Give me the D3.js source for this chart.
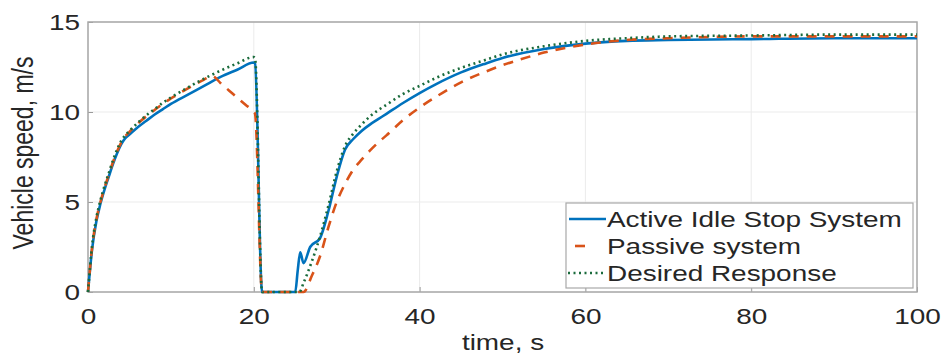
<!DOCTYPE html>
<html>
<head>
<meta charset="utf-8">
<script src="https://cdn.jsdelivr.net/npm/d3@7"></script>
<style>
  html, body { margin: 0; padding: 0; background: #fff; }
  svg { display: block; }
  text { font-family: "Liberation Sans", Arial, Helvetica, sans-serif; fill: #262626; }
</style>
</head>
<body>
<svg id="chart" width="946" height="360"></svg>
<script>
// Vehicle speed responses over one stop-and-go cycle
const activeTime  = [0, 0.5, 1, 1.5, 2, 2.5, 3, 3.5, 4, 4.5, 5, 6, 7, 8, 9, 10, 12, 14, 16, 18, 20, 20.15, 21, 25, 25.3, 25.6, 26, 26.8, 28, 29, 30, 31, 32, 33, 34, 35, 36, 38, 40, 42, 45, 48, 50, 55, 60, 65, 70, 80, 90, 100];
const activeSpeed = [0, 2.4, 3.9, 4.9, 5.7, 6.4, 7.1, 7.7, 8.2, 8.55, 8.75, 9.15, 9.5, 9.85, 10.15, 10.45, 10.95, 11.45, 11.95, 12.35, 12.75, 12.7, 0, 0, 1.2, 2.2, 1.6, 2.5, 3.0, 4.5, 6.4, 7.9, 8.5, 8.95, 9.3, 9.6, 9.9, 10.5, 11.05, 11.55, 12.2, 12.7, 13.0, 13.5, 13.8, 13.95, 14.0, 14.05, 14.1, 14.1];

const passiveTime  = [0, 0.5, 1, 1.5, 2, 2.5, 3, 3.5, 4, 4.5, 5, 6, 7, 8, 9, 10, 12, 14, 15, 16, 17, 18, 19, 20, 20.15, 21, 26, 27, 28, 29, 30, 31, 32, 33, 34, 35, 36, 38, 40, 42, 45, 48, 50, 52, 55, 60, 65, 70, 80, 90, 100];
const passiveSpeed = [0, 2.5, 4.0, 5.0, 5.8, 6.5, 7.2, 7.8, 8.3, 8.65, 8.9, 9.35, 9.75, 10.1, 10.45, 10.75, 11.3, 11.8, 12.0, 11.6, 11.2, 10.8, 10.4, 10.0, 9.9, 0, 0, 0.9, 2.0, 3.6, 5.0, 6.0, 6.8, 7.35, 7.85, 8.3, 8.7, 9.55, 10.25, 10.85, 11.65, 12.25, 12.6, 12.9, 13.3, 13.75, 14.0, 14.1, 14.2, 14.2, 14.2];

const desiredTime  = [0, 0.5, 1, 1.5, 2, 2.5, 3, 3.5, 4, 4.5, 5, 6, 7, 8, 9, 10, 12, 14, 16, 18, 20, 20.15, 21, 25.5, 26, 27, 28, 29, 30, 31, 32, 33, 34, 35, 36, 38, 40, 42, 45, 48, 50, 55, 60, 65, 70, 80, 90, 100];
const desiredSpeed = [0, 2.6, 4.1, 5.1, 5.9, 6.6, 7.3, 7.9, 8.4, 8.7, 8.95, 9.4, 9.8, 10.15, 10.5, 10.8, 11.35, 11.85, 12.3, 12.7, 13.05, 13.0, 0, 0, 0.5, 1.7, 3.1, 4.8, 6.7, 8.1, 8.8, 9.3, 9.75, 10.1, 10.4, 11.0, 11.45, 11.9, 12.45, 12.9, 13.2, 13.65, 13.95, 14.1, 14.2, 14.25, 14.3, 14.3];

const xTicks = [0, 20, 40, 60, 80, 100];
const yTicks = [0, 5, 10, 15];

const seriesNames = ["Active Idle Stop System", "Passive system", "Desired Response"];
const seriesColors = ["#0072BD", "#D95319", "#1a6b3c"];

// Horizontal stretch applied to all lettering
const SX = 1.27;
const FS = 22;

const svg = d3.select("#chart");
const pLeft = 88, pRight = 917, pTop = 22, pBottom = 292;

const x = d3.scaleLinear().domain([0, 100]).range([pLeft, pRight]);
const y = d3.scaleLinear().domain([0, 15]).range([pBottom, pTop]);

// Grid
const grid = svg.append("g");
grid.selectAll(".gx").data(xTicks).join("line")
  .attr("x1", d => x(d)).attr("x2", d => x(d))
  .attr("y1", pTop).attr("y2", pBottom)
  .attr("stroke", "#ebebeb").attr("stroke-width", 1);
grid.selectAll(".gy").data(yTicks).join("line")
  .attr("x1", pLeft).attr("x2", pRight)
  .attr("y1", d => y(d)).attr("y2", d => y(d))
  .attr("stroke", "#ebebeb").attr("stroke-width", 1);

// Axes
const xAxis = d3.axisBottom(x).tickValues(xTicks).tickSize(-5).tickPadding(0);
const yAxis = d3.axisLeft(y).tickValues(yTicks).tickSize(-5).tickPadding(0);

const gx = svg.append("g").attr("transform", `translate(0,${pBottom})`).call(xAxis);
gx.selectAll("text")
  .attr("y", 16).attr("dy", "0.71em")
  .attr("transform", `scale(${SX},1)`);
const gy = svg.append("g").attr("transform", `translate(${pLeft},0)`).call(yAxis);
gy.selectAll("text")
  .attr("x", -8 / SX).attr("dy", "0.36em")
  .attr("transform", `scale(${SX},1)`);

[gx, gy].forEach(g => {
  g.selectAll("text").style("font-size", FS + "px").style("font-family", '"Liberation Sans", Arial, sans-serif').attr("fill", "#262626");
  g.selectAll(".tick line").attr("stroke", "#9a9a9a");
  g.select(".domain").attr("stroke", "none");
});

// Box
svg.append("rect")
  .attr("x", pLeft).attr("y", pTop)
  .attr("width", pRight - pLeft).attr("height", pBottom - pTop)
  .attr("fill", "none").attr("stroke", "#a8a8a8").attr("stroke-width", 1.5);

// Series
const line = d3.line().x(d => x(d[0])).y(d => y(d[1])).curve(d3.curveMonotoneX);
const zip = (t, v) => t.map((d, i) => [d, v[i]]);

const plot = svg.append("g");
plot.append("path").datum(zip(activeTime, activeSpeed))
  .attr("d", line).attr("fill", "none")
  .attr("stroke", seriesColors[0]).attr("stroke-width", 2.6).attr("stroke-linejoin", "round");
plot.append("path").datum(zip(passiveTime, passiveSpeed))
  .attr("d", line).attr("fill", "none")
  .attr("stroke", seriesColors[1]).attr("stroke-width", 2.6).attr("stroke-dasharray", "10,8");
plot.append("path").datum(zip(desiredTime, desiredSpeed))
  .attr("d", line).attr("fill", "none")
  .attr("stroke", seriesColors[2]).attr("stroke-width", 2.6).attr("stroke-dasharray", "2,3.5");

// Axis titles
svg.append("text")
  .attr("transform", `translate(503,350) scale(${SX},1)`)
  .attr("text-anchor", "middle").style("font-size", FS + "px")
  .text("time, s");
svg.append("text")
  .attr("transform", `translate(33,153) scale(${SX},1) rotate(-90)`)
  .attr("text-anchor", "middle").style("font-size", "23px")
  .text("Vehicle speed, m/s");

// Legend
const lg = svg.append("g");
lg.append("rect")
  .attr("x", 566).attr("y", 203).attr("width", 347).attr("height", 85)
  .attr("fill", "#fff").attr("stroke", "#a8a8a8").attr("stroke-width", 1.2);
const dashes = [null, "10,40", "2,3.5"];
const sampleX = [[569, 606], [575, 606], [568, 606]];
seriesNames.forEach((name, i) => {
  const cy = 219 + i * 27;
  lg.append("line")
    .attr("x1", sampleX[i][0]).attr("x2", sampleX[i][1])
    .attr("y1", cy).attr("y2", cy)
    .attr("stroke", seriesColors[i]).attr("stroke-width", 2.6)
    .attr("stroke-dasharray", dashes[i]);
  lg.append("text")
    .attr("transform", `translate(607,${cy + 8}) scale(${SX},1)`)
    .style("font-size", FS + "px")
    .text(name);
});
</script>
</body>
</html>
